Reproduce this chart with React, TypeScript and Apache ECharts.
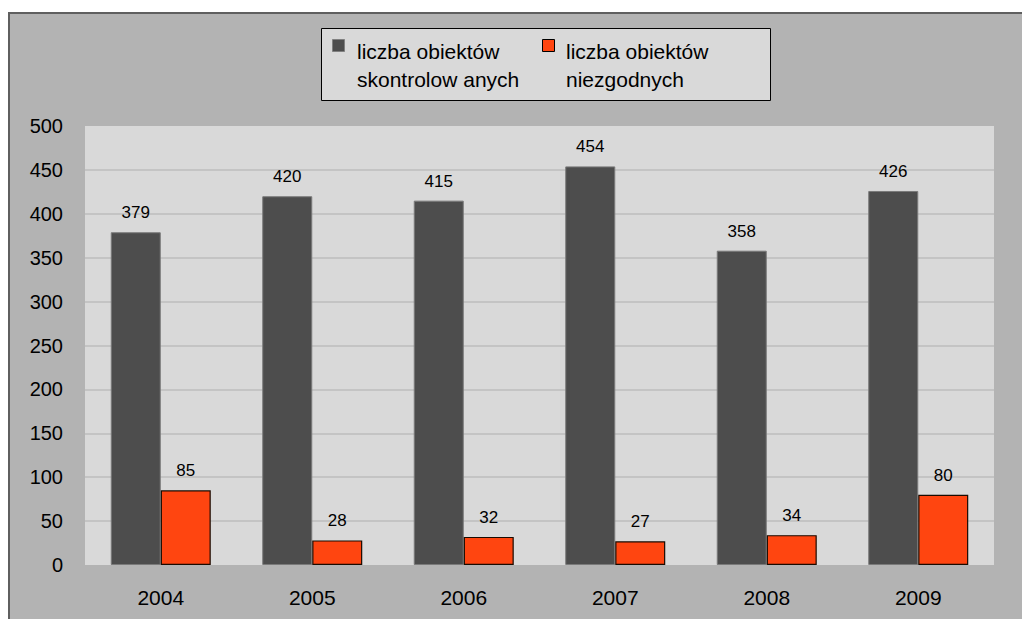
import React, { useEffect, useRef } from "react";
import * as echarts from "echarts";

const categories = ["2004", "2005", "2006", "2007", "2008", "2009"];
const controlled = [379, 420, 415, 454, 358, 426];
const nonCompliant = [85, 28, 32, 27, 34, 80];
const seriesNames = ["liczba obiektów\nskontrolow anych", "liczba obiektów\nniezgodnych"];
const yTicks = { min: 0, max: 500, interval: 50 };

const FONT = '"Liberation Sans", Arial, sans-serif';
const GRAY = "#4d4d4d";
const ORANGE = "#ff4510";

export default function App() {
  const ref = useRef<HTMLDivElement>(null);
  useEffect(() => {
    if (!ref.current) return;
    document.documentElement.style.overflow = "hidden";
    document.body.style.margin = "0";
    document.body.style.overflow = "hidden";
    const chart = echarts.init(ref.current, undefined, { renderer: "svg" });
    chart.setOption({
      animation: false,
      backgroundColor: "#ffffff",
      textStyle: { fontFamily: FONT },
      graphic: [
        {
          type: "rect",
          z: -10,
          shape: { x: 9, y: 13, width: 1040, height: 640 },
          style: { fill: "#b3b3b3", stroke: "#5f5f5f", lineWidth: 2 },
        },
        {
          type: "group",
          z: 100,
          children: [
            {
              type: "rect",
              shape: { x: 321.5, y: 28.5, width: 449, height: 72 },
              style: { fill: "#d9d9d9", stroke: "#000000", lineWidth: 1 },
            },
            {
              type: "rect",
              shape: { x: 332.5, y: 39.5, width: 12, height: 12 },
              style: { fill: GRAY, stroke: "#808080", lineWidth: 1 },
            },
            {
              type: "text",
              x: 357,
              y: 37,
              style: {
                text: seriesNames[0],
                font: `21px ${FONT}`,
                lineHeight: 28,
                fill: "#000000",
                verticalAlign: "top",
              },
            },
            {
              type: "rect",
              shape: { x: 542.5, y: 39.5, width: 12, height: 12 },
              style: { fill: ORANGE, stroke: "#000000", lineWidth: 1 },
            },
            {
              type: "text",
              x: 566,
              y: 37,
              style: {
                text: seriesNames[1],
                font: `21px ${FONT}`,
                lineHeight: 28,
                fill: "#000000",
                verticalAlign: "top",
              },
            },
          ],
        },
      ],
      grid: {
        left: 85,
        top: 126,
        width: 909,
        height: 439,
        show: true,
        backgroundColor: "#d9d9d9",
        borderWidth: 0,
        containLabel: false,
      },
      xAxis: {
        type: "category",
        data: categories,
        axisLine: { show: false },
        axisTick: { show: false },
        axisLabel: { color: "#000", fontSize: 21, margin: 22, fontFamily: FONT },
      },
      yAxis: {
        type: "value",
        min: yTicks.min,
        max: yTicks.max,
        interval: yTicks.interval,
        axisLine: { show: false },
        axisTick: { show: false },
        axisLabel: { color: "#000", fontSize: 20, margin: 22, fontFamily: FONT },
        splitLine: {
          show: true,
          showMinLine: false,
          showMaxLine: false,
          lineStyle: { color: "#bdbdbd", width: 1.5 },
        },
      },
      series: [
        {
          name: seriesNames[0],
          type: "bar",
          data: controlled,
          barWidth: 50,
          barGap: "0%",
          itemStyle: { color: GRAY, borderColor: "#7a7a7a", borderWidth: 1 },
          label: {
            show: true,
            position: "top",
            distance: 11,
            color: "#000",
            fontSize: 17,
            fontFamily: FONT,
          },
        },
        {
          name: seriesNames[1],
          type: "bar",
          data: nonCompliant,
          barWidth: 50,
          barGap: "0%",
          itemStyle: { color: ORANGE, borderColor: "#1a0a00", borderWidth: 1.2 },
          label: {
            show: true,
            position: "top",
            distance: 11,
            color: "#000",
            fontSize: 17,
            fontFamily: FONT,
          },
        },
      ],
    });
    return () => chart.dispose();
  }, []);
  return (
    <div
      ref={ref}
      style={{ position: "fixed", left: 0, top: 0, width: 1022, height: 619 }}
    />
  );
}
